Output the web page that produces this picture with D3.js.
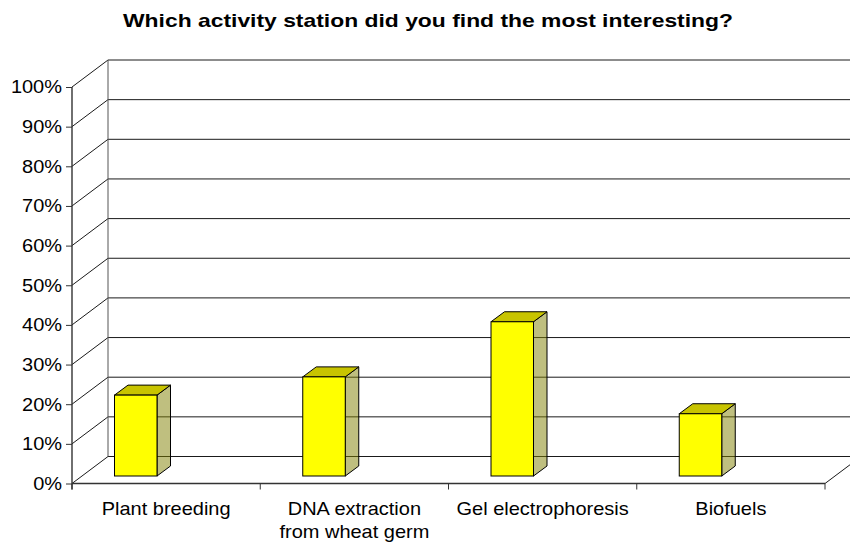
<!DOCTYPE html>
<html>
<head>
<meta charset="utf-8">
<script src="https://cdn.jsdelivr.net/npm/d3@7"></script>
<style>
  body { margin: 0; background: #fff; }
  text { font-family: "Liberation Sans", Arial, sans-serif; fill: #000; }
</style>
</head>
<body>
<div id="chart"></div>
<script>
var title = "Which activity station did you find the most interesting?";
var categories = ["Plant breeding", "DNA extraction\nfrom wheat germ", "Gel electrophoresis", "Biofuels"];
var values = [0.204, 0.25, 0.389, 0.157];
var yTicks = [0, 0.1, 0.2, 0.3, 0.4, 0.5, 0.6, 0.7, 0.8, 0.9, 1];

const width = 850,
    height = 544,
    depthX = 36, depthY = 27,      // wall depth
    barDX = 13.5, barDY = 10,      // bar depth
    barInX = 42.5, barInY = 7.5,   // bar front face position inside floor
    stretch = 1.08;

const svg = d3.select('#chart').append("svg")
    .attr("width", width)
    .attr("height", height);

const x = d3.scaleBand()
    .domain(categories)
    .range([72, 825]);

const y = d3.scaleLinear()
    .domain([0, 1])
    .range([483.5, 87]);

// widen text a bit, the source font is rendered wider than ours
function widen(sel, k) {
    sel.each(function() {
        var w = this.getComputedTextLength();
        d3.select(this).attr("textLength", w * k).attr("lengthAdjust", "spacingAndGlyphs");
    });
}

// title
svg.append("text")
    .attr("x", 428)
    .attr("y", 26.5)
    .attr("text-anchor", "middle")
    .style("font-size", "18.5px")
    .style("font-weight", "bold")
    .text(title)
    .attr("textLength", 610)
    .attr("lengthAdjust", "spacingAndGlyphs");

// walls + gridlines
const grid = svg.append("g").attr("stroke", "#1a1a1a").attr("stroke-width", 1).attr("fill", "none");

grid.selectAll(".diag")
    .data(yTicks)
    .enter().append("line")
    .attr("x1", 72).attr("y1", d => y(d))
    .attr("x2", 72 + depthX).attr("y2", d => y(d) - depthY);

grid.selectAll(".back")
    .data(yTicks)
    .enter().append("line")
    .attr("x1", 72 + depthX).attr("y1", d => y(d) - depthY)
    .attr("x2", 825 + depthX).attr("y2", d => y(d) - depthY);

// back corner
grid.append("line")
    .attr("x1", 72 + depthX).attr("y1", y(1) - depthY)
    .attr("x2", 72 + depthX).attr("y2", y(0) - depthY)
    .attr("stroke", "#555");

// floor right edge
grid.append("line")
    .attr("x1", 825).attr("y1", y(0))
    .attr("x2", 825 + depthX).attr("y2", y(0) - depthY);

// bars
const bars = svg.append("g").selectAll("g")
    .data(categories)
    .enter().append("g");

const bw = 42.5;

function pts(a) { return a.map(p => p.join(",")).join(" "); }

bars.append("polygon")
    .attr("points", (d, i) => {
        var xl = x(d) + barInX + bw, yt = y(values[i]) - barInY, yb = y(0) - barInY;
        return pts([[xl, yb], [xl, yt], [xl + barDX, yt - barDY], [xl + barDX, yb - barDY]]);
    })
    .attr("fill", "#808000")
    .attr("fill-opacity", 0.5)
    .attr("stroke", "#000")
    .attr("stroke-width", 1);

bars.append("polygon")
    .attr("points", (d, i) => {
        var xl = x(d) + barInX, yt = y(values[i]) - barInY;
        return pts([[xl, yt], [xl + bw, yt], [xl + bw + barDX, yt - barDY], [xl + barDX, yt - barDY]]);
    })
    .attr("fill", "#c8c400")
    .attr("stroke", "#000")
    .attr("stroke-width", 1);

bars.append("rect")
    .attr("x", d => x(d) + barInX)
    .attr("y", (d, i) => y(values[i]) - barInY)
    .attr("width", bw)
    .attr("height", (d, i) => y(0) - y(values[i]))
    .attr("fill", "#ffff00")
    .attr("stroke", "#000")
    .attr("stroke-width", 1);

// y axis
const yAxis = svg.append("g")
    .attr("transform", "translate(72,0)")
    .call(d3.axisLeft(y).tickValues(yTicks).tickFormat(d3.format(".0%")).tickSize(6).tickPadding(4));
yAxis.select(".domain").remove();
yAxis.append("line")
    .attr("x1", 0).attr("x2", 0)
    .attr("y1", y(1)).attr("y2", y(0) + 6)
    .attr("stroke", "#333").attr("stroke-width", 1.4);
yAxis.selectAll(".tick line").attr("stroke", "#333");
yAxis.selectAll("text")
    .style("font-size", "18.5px")
    .style("font-family", "'Liberation Sans', Arial, sans-serif")
    .attr("fill", "#000")
    .call(widen, stretch);

// x axis
const xAxis = svg.append("g")
    .attr("transform", "translate(0," + y(0) + ")")
    .call(d3.axisBottom(x).tickSize(0).tickFormat(""));
xAxis.select(".domain").attr("stroke", "#333").attr("stroke-width", 1.4)
    .attr("d", "M72,0H825");
xAxis.selectAll(".tick").remove();

xAxis.selectAll(".sep")
    .data(categories.concat(["end"]))
    .enter().append("line")
    .attr("x1", (d, i) => 72 + i * x.bandwidth())
    .attr("x2", (d, i) => 72 + i * x.bandwidth())
    .attr("y1", 0).attr("y2", 6)
    .attr("stroke", "#333");

const labels = xAxis.selectAll(".lab")
    .data(categories)
    .enter().append("text")
    .attr("text-anchor", "middle")
    .attr("transform", d => "translate(" + (x(d) + x.bandwidth() / 2) + ",31)")
    .style("font-size", "18.5px");

labels.selectAll("tspan")
    .data(d => d.split("\n"))
    .enter().append("tspan")
    .attr("x", 0)
    .attr("y", (d, i) => i * 23)
    .text(d => d)
    .call(widen, stretch);
</script>
</body>
</html>
